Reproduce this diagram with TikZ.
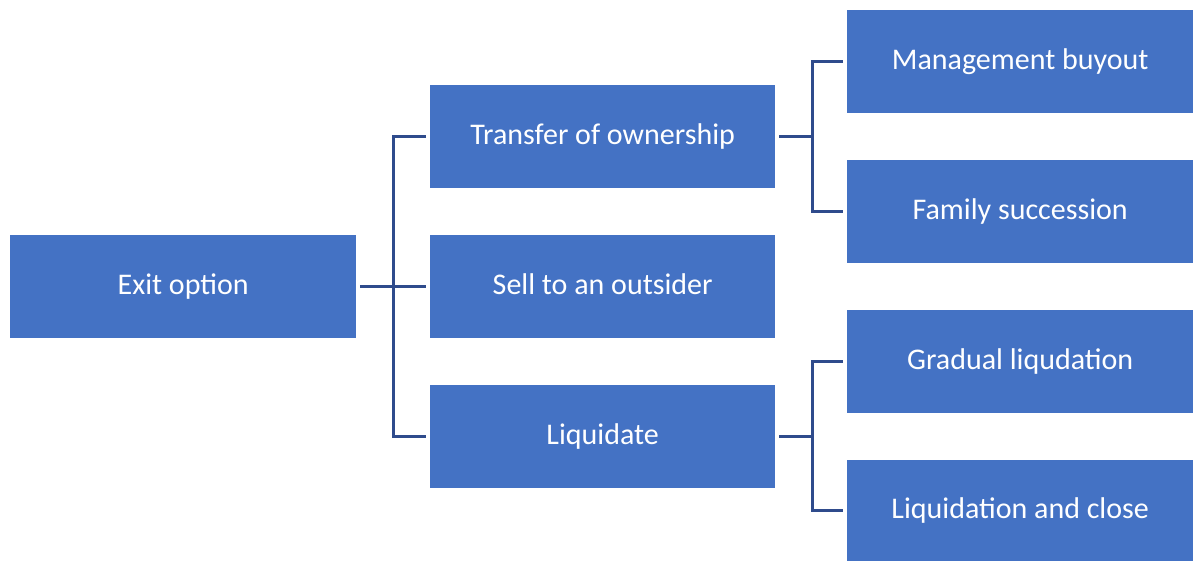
\documentclass[tikz,border=0pt]{standalone}
\usepackage{fontspec}
\setmainfont{Carlito}
\usetikzlibrary{calc}
\definecolor{boxblue}{HTML}{4472C4}
\definecolor{linkblue}{HTML}{2F4B8C}
\begin{document}
\begin{tikzpicture}[x=1pt,y=-1pt,
  box/.style={fill=boxblue,draw=none,text=white,minimum width=346pt,minimum height=103pt,inner sep=0pt,text height=21pt,text depth=6pt,font=\fontsize{30}{36}\selectfont},
  link/.style={draw=linkblue,line width=3pt}]
\useasboundingbox (0,0) rectangle (1195,561);
\node[box,anchor=north west] (exit) at (10,235) {Exit option};
\node[box,anchor=north west,minimum width=345pt] (transfer) at (430,85) {Transfer of ownership};
\node[box,anchor=north west,minimum width=345pt] (sell) at (430,235) {Sell to an outsider};
\node[box,anchor=north west,minimum width=345pt] (liq) at (430,385) {Liquidate};
\node[box,anchor=north west] (mbo) at (847,10) {Management buyout};
\node[box,anchor=north west] (family) at (847,160) {Family succession};
\node[box,anchor=north west] (gradual) at (847,310) {Gradual liqudation};
\node[box,anchor=north west,minimum height=101pt] (close) at (847,460) {Liquidation and close};
% level 1 connectors
\coordinate (j1) at ($(exit.east)+(37,0)$);
\draw[link] ([xshift=4pt]exit.east) -- ([xshift=-4pt]sell.west);
\draw[link] ([xshift=-4pt]transfer.west) -| (j1) |- ([xshift=-4pt]liq.west);
% level 2 connectors
\draw[link] ([xshift=4pt]transfer.east) -- ++(33,0) coordinate (j2);
\draw[link] ([xshift=-4pt]mbo.west) -| (j2) |- ([xshift=-4pt]family.west);
\draw[link] ([xshift=4pt]liq.east) -- ++(33,0) coordinate (j3);
\draw[link] ([xshift=-4pt]gradual.west) -| (j3) |- ([xshift=-4pt]close.west);
\end{tikzpicture}
\end{document}
